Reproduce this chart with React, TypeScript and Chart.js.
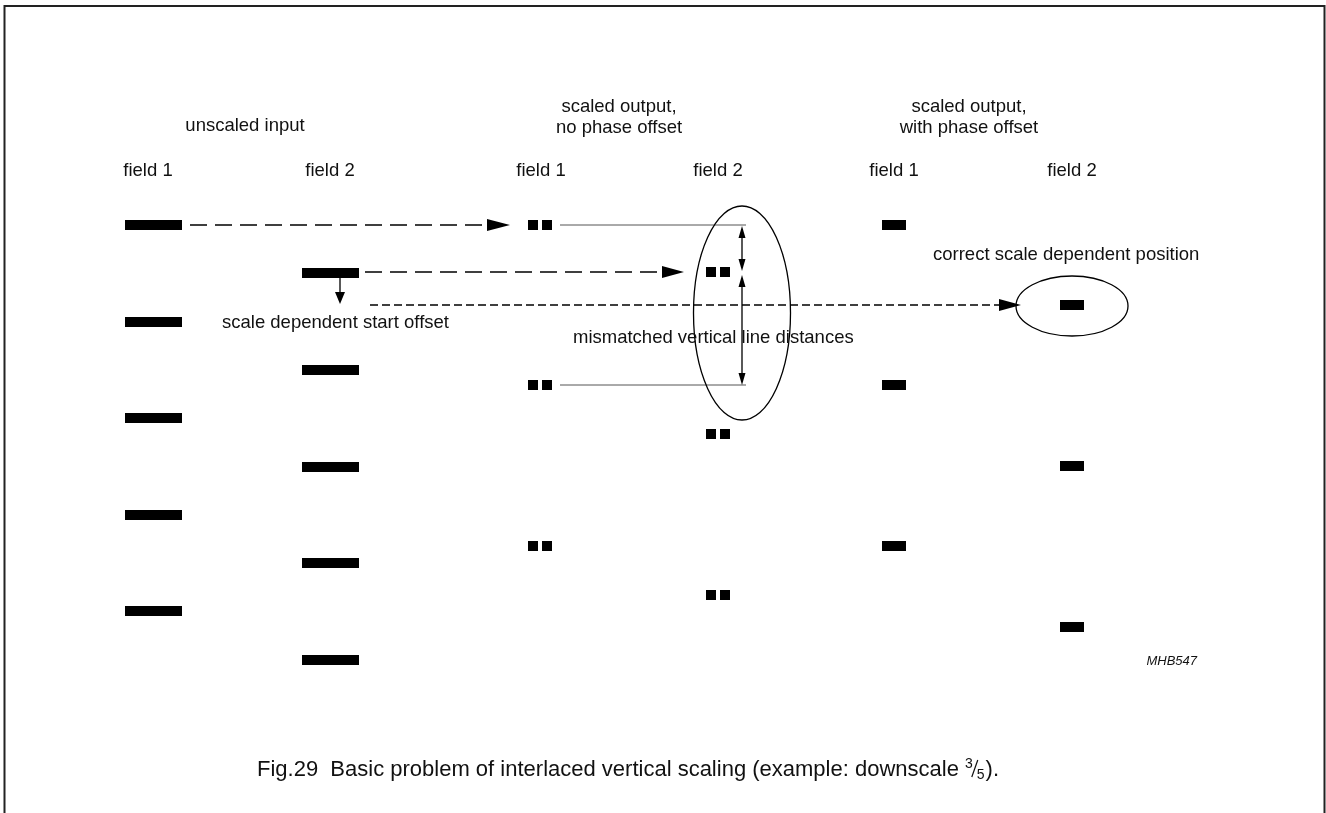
import React, { useEffect, useRef } from "react";
import { Chart, registerables } from "chart.js";

Chart.register(...registerables);

const W = 1326;
const H = 813;

// ---- data (diagram coordinates: x 0..1326, y 0..813 top-down) ----
const inputField1Y = [225, 322, 418, 515, 611];
const inputField2Y = [273, 370, 467, 563, 660];
const noPhaseField1Y = [225, 385, 546];
const noPhaseField2Y = [272, 434, 595];
const phaseField1Y = [225, 385, 546];
const phaseField2Y = [305, 466, 627];

const fieldLabels = ["field 1", "field 2", "field 1", "field 2", "field 1", "field 2"];
const fieldLabelX = [148, 330, 541, 718, 894, 1072];

// column extents [x start, x end]
const colInput1 = [125, 182];
const colInput2 = [302, 359];
const colNoPhase1 = [[528, 538], [542, 552]];
const colNoPhase2 = [[706, 716], [720, 730]];
const colPhase1 = [882, 906];
const colPhase2 = [1060, 1084];

// reference lines (thin, solid)
const refLineY = [225, 385];
const refLineX = [560, 746];

// arrows: [x1, y1, x2, y2, dash, heads]
type Arrow = { x1: number; y1: number; x2: number; y2: number; dash: number[]; heads: "end" | "both"; len: number; hw: number };
const arrows: Arrow[] = [
  { x1: 190, y1: 225, x2: 510, y2: 225, dash: [17, 8], heads: "end", len: 23, hw: 6 },
  { x1: 365, y1: 272, x2: 684, y2: 272, dash: [17, 8], heads: "end", len: 22, hw: 6 },
  { x1: 370, y1: 305, x2: 1021, y2: 305, dash: [8, 4], heads: "end", len: 22, hw: 6 },
  { x1: 340, y1: 278, x2: 340, y2: 304, dash: [], heads: "end", len: 12, hw: 5 },
  { x1: 742, y1: 226, x2: 742, y2: 271, dash: [], heads: "both", len: 12, hw: 3.5 },
  { x1: 742, y1: 275, x2: 742, y2: 385, dash: [], heads: "both", len: 12, hw: 3.5 },
];

// ellipses: center x, center y, radius x, radius y
const ellipses = [
  { cx: 742, cy: 313, rx: 48.5, ry: 107 },
  { cx: 1072, cy: 306, rx: 56, ry: 30 },
];

type Label = { text: string; x: number; y: number; align: CanvasTextAlign; font: string };
const LBL = "18.5px 'Liberation Sans', Arial, sans-serif";
const labels: Label[] = [
  { text: "unscaled input", x: 245, y: 131, align: "center", font: LBL },
  { text: "scaled output,", x: 619, y: 112, align: "center", font: LBL },
  { text: "no phase offset", x: 619, y: 133, align: "center", font: LBL },
  { text: "scaled output,", x: 969, y: 112, align: "center", font: LBL },
  { text: "with phase offset", x: 969, y: 133, align: "center", font: LBL },
  { text: "scale dependent start offset", x: 222, y: 328, align: "left", font: LBL },
  { text: "mismatched vertical line distances", x: 573, y: 343, align: "left", font: LBL },
  { text: "correct scale dependent position", x: 933, y: 260, align: "left", font: LBL },
  { text: "MHB547", x: 1197, y: 665, align: "right", font: "italic 13px 'Liberation Sans', Arial, sans-serif" },
];

const captionMain = "Fig.29  Basic problem of interlaced vertical scaling (example: downscale ";
const captionFracNum = "3";
const captionFracDen = "5";
const captionEnd = ").";

function seg(x1: number, y1: number, x2: number, y2: number, width: number, color: string, dash: number[] = []) {
  return {
    data: [{ x: x1, y: y1 }, { x: x2, y: y2 }],
    showLine: true,
    borderColor: color,
    backgroundColor: color,
    borderWidth: width,
    borderDash: dash,
    borderCapStyle: "butt" as const,
    pointRadius: 0,
    pointHoverRadius: 0,
    fill: false,
  };
}

function buildDatasets() {
  const ds: any[] = [];
  const BAR = 10;
  inputField1Y.forEach((y) => ds.push(seg(colInput1[0], y, colInput1[1], y, BAR, "#000")));
  inputField2Y.forEach((y) => ds.push(seg(colInput2[0], y, colInput2[1], y, BAR, "#000")));
  noPhaseField1Y.forEach((y) => colNoPhase1.forEach((c) => ds.push(seg(c[0], y, c[1], y, BAR, "#000"))));
  noPhaseField2Y.forEach((y) => colNoPhase2.forEach((c) => ds.push(seg(c[0], y, c[1], y, BAR, "#000"))));
  phaseField1Y.forEach((y) => ds.push(seg(colPhase1[0], y, colPhase1[1], y, BAR, "#000")));
  phaseField2Y.forEach((y) => ds.push(seg(colPhase2[0], y, colPhase2[1], y, BAR, "#000")));
  refLineY.forEach((y) => ds.push(seg(refLineX[0], y, refLineX[1], y, 1, "#555")));
  arrows.forEach((a) => {
    // shaft stops at arrow-head bases
    const dx = a.x2 - a.x1, dy = a.y2 - a.y1;
    const L = Math.hypot(dx, dy);
    const ux = dx / L, uy = dy / L;
    const ex = a.x2 - ux * a.len * 0.9, ey = a.y2 - uy * a.len * 0.9;
    const sx = a.heads === "both" ? a.x1 + ux * a.len * 0.9 : a.x1;
    const sy = a.heads === "both" ? a.y1 + uy * a.len * 0.9 : a.y1;
    ds.push(seg(sx, sy, ex, ey, 1.3, "#000", a.dash));
  });
  return ds;
}

const overlayPlugin = {
  id: "overlay",
  afterDatasetsDraw(chart: any) {
    const ctx: CanvasRenderingContext2D = chart.ctx;
    const xs = chart.scales.x, ys = chart.scales.y;
    const px = (v: number) => xs.getPixelForValue(v);
    const py = (v: number) => ys.getPixelForValue(v);
    ctx.save();
    // arrow heads
    ctx.fillStyle = "#000";
    const head = (tx: number, ty: number, fx: number, fy: number, len: number, hw: number) => {
      const dx = px(tx) - px(fx), dy = py(ty) - py(fy);
      const L = Math.hypot(dx, dy);
      const ux = dx / L, uy = dy / L;
      const bx = px(tx) - ux * len, by = py(ty) - uy * len;
      ctx.beginPath();
      ctx.moveTo(px(tx), py(ty));
      ctx.lineTo(bx - uy * hw, by + ux * hw);
      ctx.lineTo(bx + uy * hw, by - ux * hw);
      ctx.closePath();
      ctx.fill();
    };
    arrows.forEach((a) => {
      head(a.x2, a.y2, a.x1, a.y1, a.len, a.hw);
      if (a.heads === "both") head(a.x1, a.y1, a.x2, a.y2, a.len, a.hw);
    });
    // ellipses
    ctx.strokeStyle = "#000";
    ctx.lineWidth = 1.3;
    ellipses.forEach((e) => {
      const cx = px(e.cx), cy = py(e.cy);
      const rx = Math.abs(px(e.cx + e.rx) - cx), ry = Math.abs(py(e.cy + e.ry) - cy);
      ctx.beginPath();
      ctx.ellipse(cx, cy, rx, ry, 0, 0, Math.PI * 2);
      ctx.stroke();
    });
    // text
    ctx.fillStyle = "#111";
    ctx.textBaseline = "alphabetic";
    labels.forEach((l) => {
      ctx.font = l.font;
      ctx.textAlign = l.align;
      ctx.fillText(l.text, px(l.x), py(l.y));
    });
    ctx.font = LBL;
    ctx.textAlign = "center";
    fieldLabels.forEach((t, i) => ctx.fillText(t, px(fieldLabelX[i]), py(176)));
    // caption with stacked fraction
    const capFont = "22px 'Liberation Sans', Arial, sans-serif";
    const smallFont = "14px 'Liberation Sans', Arial, sans-serif";
    ctx.textAlign = "left";
    ctx.font = capFont;
    let cx = px(257);
    const by = py(776);
    ctx.fillText(captionMain, cx, by);
    cx += ctx.measureText(captionMain).width;
    ctx.font = smallFont;
    ctx.fillText(captionFracNum, cx, by - 8);
    const nw = ctx.measureText(captionFracNum).width;
    ctx.beginPath();
    ctx.lineWidth = 1.2;
    ctx.strokeStyle = "#111";
    ctx.moveTo(cx + nw - 1, by + 1);
    ctx.lineTo(cx + nw + 5, by - 16);
    ctx.stroke();
    ctx.fillText(captionFracDen, cx + nw + 4, by + 3);
    cx += nw + 4 + ctx.measureText(captionFracDen).width + 1;
    ctx.font = capFont;
    ctx.fillText(captionEnd, cx, by);
    // frame
    ctx.strokeStyle = "#222";
    ctx.lineWidth = 2;
    ctx.beginPath();
    ctx.moveTo(px(4.5), py(H));
    ctx.lineTo(px(4.5), py(6));
    ctx.lineTo(px(1324.5), py(6));
    ctx.lineTo(px(1324.5), py(H));
    ctx.stroke();
    ctx.restore();
  },
};

export default function App() {
  const ref = useRef<HTMLCanvasElement | null>(null);
  useEffect(() => {
    document.body.style.margin = "0";
    if (!ref.current) return;
    const chart = new Chart(ref.current, {
      type: "scatter",
      data: { datasets: buildDatasets() },
      options: {
        responsive: false,
        animation: false,
        devicePixelRatio: 1,
        layout: { padding: 0 },
        plugins: { legend: { display: false }, tooltip: { enabled: false } },
        events: [],
        scales: {
          x: { type: "linear", min: 0, max: W, display: false },
          y: { type: "linear", min: 0, max: H, reverse: true, display: false },
        },
      },
      plugins: [overlayPlugin],
    });
    return () => chart.destroy();
  }, []);
  return (
    <div style={{ position: "absolute", left: 0, top: 0, width: W, height: H, background: "#fff" }}>
      <canvas ref={ref} width={W} height={H} style={{ display: "block" }} />
    </div>
  );
}
